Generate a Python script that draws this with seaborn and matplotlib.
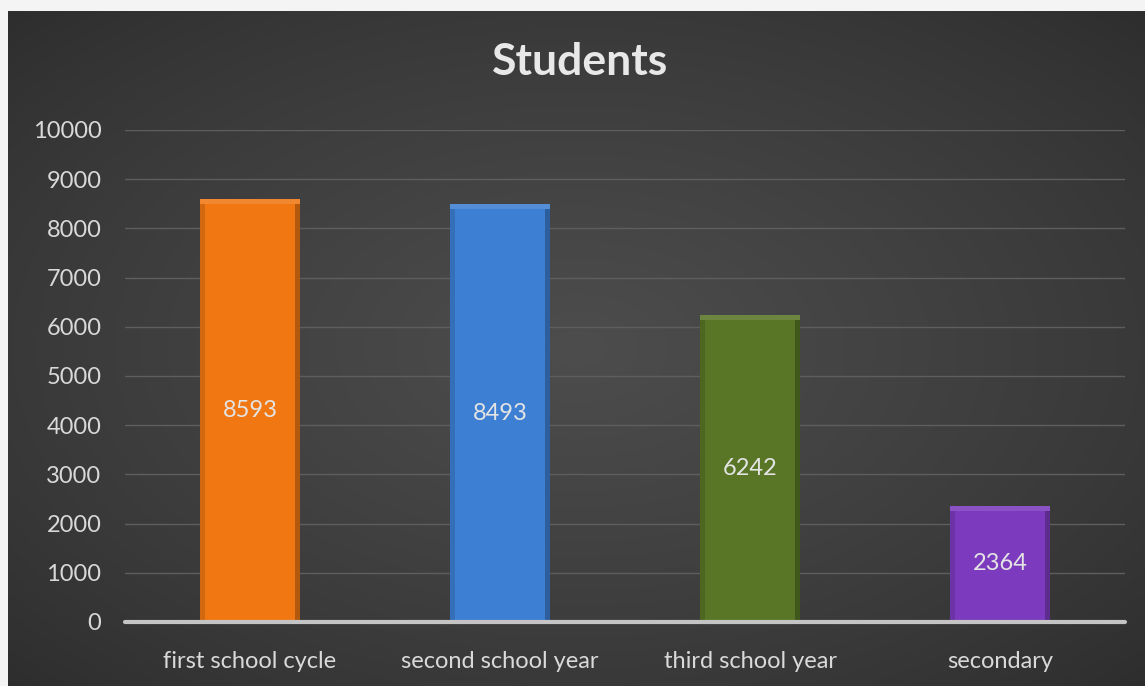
import numpy as np
import pandas as pd
import matplotlib
matplotlib.use("Agg")
import matplotlib.pyplot as plt
import seaborn as sns

categories = ["first school cycle", "second school year", "third school year", "secondary"]
students = [8593, 8493, 6242, 2364]
bar_colors = ["#F07712", "#3D7FD3", "#587626", "#7C3BBE"]
y_ticks = [0, 1000, 2000, 3000, 4000, 5000, 6000, 7000, 8000, 9000, 10000]

df = pd.DataFrame({"level": categories, "students": students})

sns.set_theme(style="dark")
plt.rcParams["font.family"] = ["Lato", "DejaVu Sans"]

W, H = 1145, 686
fig = plt.figure(figsize=(W / 100, H / 100), dpi=100)
fig.patch.set_facecolor("#f4f4f4")

# dark radial background of the chart area
bg = fig.add_axes([8 / W, 0, 1 - 8 / W, 675 / H], zorder=-2)
gx, gy = np.meshgrid(np.linspace(-1, 1, 400), np.linspace(-1, 1, 240))
r = np.sqrt((gx * 0.9) ** 2 + (gy * 0.9) ** 2)
shade = np.clip(1 - r / 1.3, 0, 1) ** 0.8
lo = np.array([0x2c, 0x2c, 0x2c]) / 255
hi = np.array([0x4d, 0x4d, 0x4d]) / 255
img = lo + (hi - lo) * shade[..., None]
bg.imshow(img, aspect="auto", interpolation="bicubic")
bg.axis("off")

ax = fig.add_axes([125 / W, (H - 622) / H, 1000 / W, (622 - 130) / H])
ax.patch.set_alpha(0)

sns.barplot(data=df, x="level", y="students", hue="level", palette=bar_colors,
            saturation=1, width=0.4, legend=False, ax=ax, zorder=3,
            edgecolor="none", linewidth=0)

# simple bevel feel: darker sides and lighter top rim
for patch in list(ax.patches):
    x0, w, h = patch.get_x(), patch.get_width(), patch.get_height()
    ax.bar(x0 + w * 0.025, h - 100, width=w * 0.05, color="black", alpha=0.12,
           zorder=4, linewidth=0)
    ax.bar(x0 + w * 0.975, h - 100, width=w * 0.05, color="black", alpha=0.25,
           zorder=4, linewidth=0)
    ax.bar(x0 + w / 2, 100, bottom=h - 100, width=w, color="white", alpha=0.12,
           zorder=4, linewidth=0)

for i, v in enumerate(students):
    ax.text(i, v / 2, str(v), ha="center", va="center", color="#e4e4e4",
            fontsize=17, zorder=5)

ax.set_xlim(-0.5, 3.5)
ax.set_ylim(0, 10000)
ax.set_yticks(y_ticks)
ax.grid(axis="y", color="#5e5e5e", linewidth=1, zorder=0)
ax.grid(axis="x", visible=False)
ax.axhline(0, color="#c4c4c4", linewidth=3, zorder=6, clip_on=False)
for s in ax.spines.values():
    s.set_visible(False)

ax.tick_params(axis="both", length=0, colors="#d9d9d9", labelsize=17)
ax.tick_params(axis="y", pad=17)
ax.tick_params(axis="x", pad=21)
ax.set_xlabel("")
ax.set_ylabel("")

fig.text(580 / W, 1 - 62 / H, "Students", ha="center", va="center",
         color="#e8e8e8", fontsize=32, fontweight="bold")

fig.savefig("out.png", dpi=100, facecolor=fig.get_facecolor())
